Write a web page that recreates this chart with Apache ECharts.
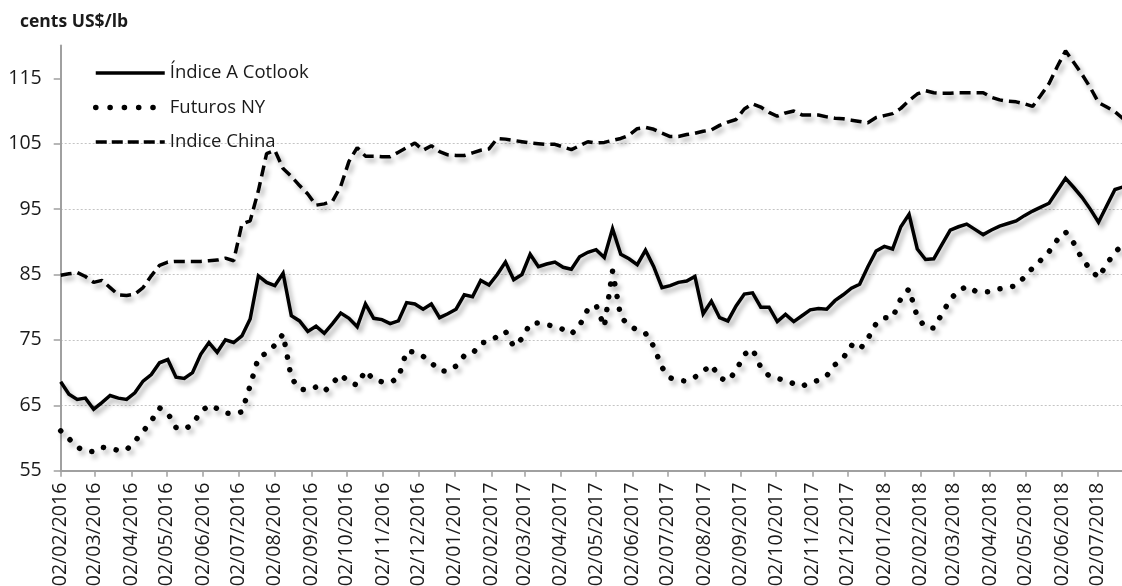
<!DOCTYPE html>
<html>
<head>
<meta charset="utf-8">
<script src="https://cdn.jsdelivr.net/npm/echarts@6/dist/echarts.min.js"></script>
<style>html,body{margin:0;padding:0;background:#fff;}#c{width:1122px;height:586px;}</style>
</head>
<body>
<div id="c"></div>
<script>
// Weekly observations starting 02/02/2016 (130 weeks)
const firstDate = [2016, 2, 2];
const weekCount = 130;
const axisEnd = [2018, 7, 24];
const yTicks = [55, 65, 75, 85, 95, 105, 115];
const seriesNames = ['Índice A Cotlook', 'Futuros NY', 'Indice China'];

const cotlook = [
68.6,66.7,65.9,66.1,64.4,65.4,66.5,66.1,65.9,66.9,
68.7,69.7,71.5,72.0,69.3,69.1,70.0,72.8,74.6,73.1,
75.0,74.6,75.6,78.2,84.8,83.8,83.3,85.2,78.7,77.9,
76.3,77.1,76.0,77.5,79.1,78.3,77.0,80.5,78.3,78.1,
77.5,77.9,80.7,80.5,79.7,80.5,78.4,79.0,79.7,81.9,
81.6,84.1,83.4,85.0,86.9,84.2,85.0,88.1,86.2,86.6,
86.9,86.1,85.8,87.7,88.4,88.8,87.6,92.0,88.1,87.4,
86.5,88.7,86.2,83.0,83.3,83.8,84.0,84.7,79.0,80.9,
78.4,77.9,80.2,82.0,82.2,80.0,80.0,77.8,78.9,77.8,
78.7,79.6,79.8,79.7,81.0,81.9,82.9,83.5,86.2,88.6,
89.3,88.9,92.3,94.2,88.9,87.3,87.4,89.6,91.8,92.3,
92.7,91.9,91.1,91.8,92.4,92.8,93.2,94.0,94.7,95.3,
95.9,97.8,99.7,98.3,96.8,95.0,93.0,95.5,98.0,98.4
];
const futurosNY = [
61.1,59.9,58.6,58.0,57.9,58.6,58.4,58.1,58.2,59.5,
61.0,62.6,64.6,63.8,61.6,61.3,62.1,64.0,65.0,64.5,
63.8,63.7,64.0,68.0,72.3,73.0,74.2,75.9,69.2,67.5,
67.3,67.8,67.1,68.4,69.7,68.5,68.1,70.3,68.9,68.6,
68.5,69.2,73.3,73.1,72.5,71.5,70.3,70.2,71.0,72.6,
72.9,74.5,74.8,75.5,76.3,74.0,75.2,77.5,77.6,77.3,
77.1,76.6,75.9,77.2,79.7,80.3,77.0,85.5,78.5,77.2,
76.5,76.0,74.0,70.8,69.2,68.8,68.7,69.3,70.2,71.2,
69.2,68.7,70.3,72.8,73.6,70.8,69.5,69.1,68.8,68.3,
67.9,68.5,68.8,69.5,71.2,72.2,74.2,73.5,75.2,77.5,
78.4,78.4,81.3,82.8,78.5,76.9,76.8,79.0,81.2,82.5,
83.2,82.5,82.3,82.4,82.8,83.0,83.3,84.6,86.0,87.2,
88.5,90.3,91.5,89.8,87.4,85.8,84.5,86.6,88.4,89.6
];
const indiceChina = [
84.9,85.1,85.3,84.7,83.8,84.1,83.0,81.9,81.8,82.0,
83.0,84.8,86.4,86.9,87.0,87.0,87.0,87.0,87.1,87.2,
87.5,87.1,92.7,93.2,97.8,103.5,104.0,101.2,100.0,98.6,
97.3,95.6,95.8,96.2,98.5,102.3,104.4,103.1,103.1,103.0,
103.0,103.7,104.4,105.1,104.0,104.7,103.8,103.3,103.2,103.2,
103.6,104.0,104.2,105.8,105.7,105.5,105.3,105.1,105.0,104.9,
104.9,104.5,104.1,104.7,105.3,105.1,105.2,105.5,105.8,106.3,
107.3,107.5,107.2,106.6,106.1,106.1,106.4,106.6,106.9,107.1,
107.8,108.3,108.7,110.3,111.1,110.6,109.8,109.2,109.7,110.0,
109.4,109.4,109.4,109.1,108.9,108.8,108.6,108.4,108.2,109.0,
109.3,109.6,110.4,111.6,112.6,113.1,112.8,112.7,112.7,112.8,
112.8,112.8,112.8,112.1,111.7,111.5,111.4,111.1,110.7,112.4,
114.2,116.8,119.2,117.4,115.6,113.6,111.3,110.6,109.9,108.8
];

function pad(n){return (n<10?'0':'')+n;}
function fmt(t){const d=new Date(t);return pad(d.getUTCDate())+'/'+pad(d.getUTCMonth()+1)+'/'+d.getUTCFullYear();}
const DAY=86400000;
const t0=Date.UTC(firstDate[0],firstDate[1]-1,firstDate[2]);
const t1=Date.UTC(axisEnd[0],axisEnd[1]-1,axisEnd[2]);
const dayCats=[];
for(let t=t0;t<=t1;t+=DAY) dayCats.push(fmt(t));
const weekDates=[];
for(let k=0;k<weekCount;k++) weekDates.push(fmt(t0+k*7*DAY));

const FONT='Open Sans';
const TXT='#1a1a1a';
const shadow={shadowColor:'rgba(0,0,0,0.32)',shadowBlur:5,shadowOffsetX:3,shadowOffsetY:4};
const noShadow={shadowBlur:0,shadowColor:'rgba(0,0,0,0)',shadowOffsetX:0,shadowOffsetY:0};
const styles=[
  {color:'#000',width:3.5,type:'solid',join:'miter'},
  {color:'#000',width:5.5,type:[0.1,14.2],cap:'round'},
  {color:'#000',width:3.5,type:[11,5],cap:'butt'}
];

const chart=echarts.init(document.getElementById('c'));
chart.setOption({
  backgroundColor:'#fff',
  animation:false,
  title:{text:'cents US$/lb',left:20,top:13,padding:0,textStyle:{fontFamily:FONT,fontSize:17.5,fontWeight:'bold',color:TXT}},
  legend:{
    orient:'vertical',left:88,top:58,itemWidth:69,itemHeight:20,itemGap:14.5,
    data:seriesNames.map((n,i)=>({name:n,itemStyle:{opacity:0,color:'rgba(0,0,0,0)',borderWidth:0},lineStyle:Object.assign({},styles[i],noShadow)})),
    textStyle:{fontFamily:FONT,fontSize:18.5,color:TXT,lineHeight:20},
    selectedMode:false
  },
  grid:{left:60.7,right:-1.2,top:45.6,bottom:115.3,containLabel:false,outerBoundsMode:'none'},
  xAxis:{
    type:'category',data:dayCats,boundaryGap:false,
    axisLine:{lineStyle:{color:'#a0a0a0',width:2}},
    axisTick:{show:true,length:6,lineStyle:{color:'#a0a0a0',width:1.5},interval:function(i,v){return v.slice(0,3)==='02/';}},
    axisLabel:{rotate:90,margin:12,fontFamily:FONT,fontSize:19.5,color:TXT,interval:function(i,v){return v.slice(0,3)==='02/';}},
    splitLine:{show:false}
  },
  yAxis:{
    type:'value',min:55,max:120,interval:10,
    axisLine:{show:true,lineStyle:{color:'#a0a0a0',width:2}},
    axisTick:{show:true,length:7,lineStyle:{color:'#a0a0a0',width:1.5},customValues:yTicks},
    axisLabel:{margin:19,fontFamily:FONT,fontSize:19.5,color:TXT,customValues:yTicks},
    splitLine:{show:true,showMaxLine:false,showMinLine:false,lineStyle:{color:'#c4c4c4',width:1,type:[2,2]}}
  },
  series:[
    {name:seriesNames[0],type:'line',symbol:'none',showSymbol:false,z:3,itemStyle:{color:'#000'},
     data:weekDates.map((d,i)=>[d,cotlook[i]]),
     lineStyle:Object.assign({},styles[0],shadow)},
    {name:seriesNames[1],type:'line',symbol:'none',showSymbol:false,z:2,itemStyle:{color:'#000'},
     data:weekDates.map((d,i)=>[d,futurosNY[i]]),
     lineStyle:Object.assign({},styles[1],shadow,{type:[0.1,12.8]})},
    {name:seriesNames[2],type:'line',symbol:'none',showSymbol:false,z:2,itemStyle:{color:'#000'},
     data:weekDates.map((d,i)=>[d,indiceChina[i]]),
     lineStyle:Object.assign({},styles[2],shadow,{type:[11,6]})}
  ]
});
</script>
</body>
</html>
